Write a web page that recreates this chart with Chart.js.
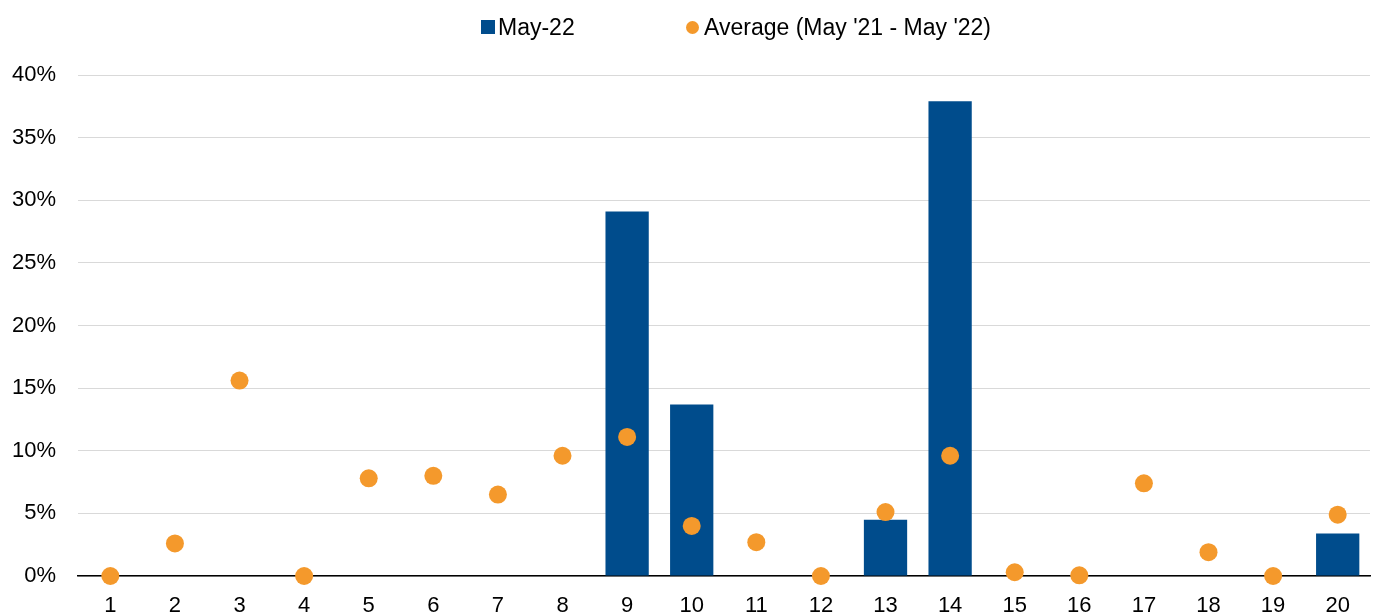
<!DOCTYPE html>
<html>
<head>
<meta charset="utf-8">
<script src="https://cdn.jsdelivr.net/npm/chart.js@4.4.1/dist/chart.umd.min.js"></script>
<style>
  html, body { margin: 0; padding: 0; background: #fff; }
  #wrap { position: relative; width: 1379px; height: 615px; }
  #legend {
    position: absolute; top: 13px; left: 0; width: 1379px; height: 28px;
    font-family: "Liberation Sans", Arial, sans-serif; font-size: 23px; color: #000;
  }
  .item { position: absolute; top: 0; display: flex; align-items: center; height: 28px; white-space: nowrap; }
  .box { width: 14px; height: 14px; background: #004c8c; margin-right: 3px; }
  .dot { width: 13px; height: 13px; border-radius: 50%; background: #f4992c; margin-right: 5px; }
</style>
</head>
<body>
<div id="wrap">
  <canvas id="chart" width="1379" height="615"></canvas>
  <div id="legend">
    <div class="item" style="left:481px"><span class="box"></span>May-22</div>
    <div class="item" style="left:686px"><span class="dot"></span>Average (May '21 - May '22)</div>
  </div>
</div>
<script>
const categories = ['1', '2', '3', '4', '5', '6', '7', '8', '9', '10',
  '11', '12', '13', '14', '15', '16', '17', '18', '19', '20'];
const may22 = [0, 0, 0, 0, 0, 0, 0, 0, 29.1, 13.7, 0, 0, 4.5, 37.9, 0, 0, 0, 0, 0, 3.4];
const average = [0, 2.6, 15.6, 0, 7.8, 8.0, 6.5, 9.6, 11.1, 4.0, 2.7, 0, 5.1, 9.6, 0.3, 0.05, 7.4, 1.9, 0, 4.9];
const yTicks = [0, 5, 10, 15, 20, 25, 30, 35, 40];

const font = { family: '"Liberation Sans", Arial, sans-serif', size: 22 };

new Chart(document.getElementById('chart'), {
  type: 'bar',
  data: {
    labels: categories,
    datasets: [
      {
        label: 'May-22',
        data: may22,
        backgroundColor: '#004c8c',
        categoryPercentage: 1,
        barPercentage: 0.67,
        order: 1
      },
      {
        type: 'line',
        label: "Average (May '21 - May '22)",
        data: average,
        showLine: false,
        pointRadius: 9,
        pointHoverRadius: 9,
        pointBackgroundColor: '#f4992c',
        pointBorderWidth: 0,
        clip: false,
        order: 0
      }
    ]
  },
  options: {
    responsive: false,
    animation: false,
    layout: { padding: { top: 75, left: -10, right: 9, bottom: -21 } },
    plugins: {
      legend: { display: false },
      tooltip: { enabled: false }
    },
    scales: {
      x: {
        offset: true,
        grid: { display: false, drawTicks: false },
        border: { color: '#000', width: 1.5 },
        ticks: { color: '#000', font: { ...font, lineHeight: 1 }, padding: 19, maxRotation: 0 }
      },
      y: {
        min: 0,
        max: 40,
        afterBuildTicks: axis => { axis.ticks = yTicks.map(v => ({ value: v })); },
        grid: { color: '#d9d9d9', drawTicks: false },
        border: { display: false },
        ticks: { color: '#000', font, padding: 22, callback: v => v + '%' }
      }
    }
  }
});
</script>
</body>
</html>
